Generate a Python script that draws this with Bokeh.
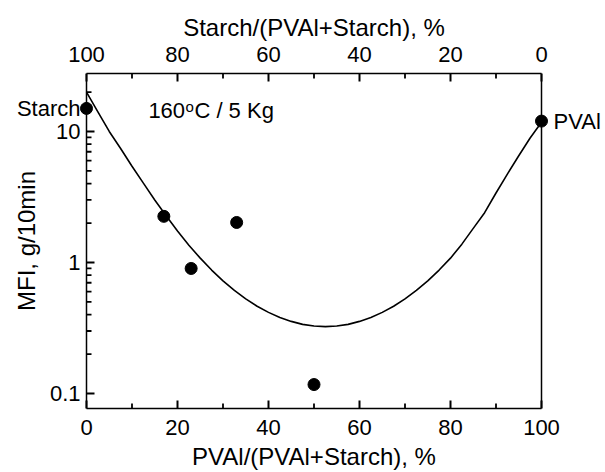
import math
from bokeh.plotting import figure
from bokeh.models import Range1d, LinearAxis, LogAxis, FixedTicker, Label, Span
from bokeh.embed import file_html
from bokeh.resources import INLINE

# Measured melt flow index values
pval_pct = [0, 17, 23, 33, 50, 100]
mfi = [15.0, 2.25, 0.90, 2.02, 0.117, 12.0]
point_names = {0: "Starch", 5: "PVAl"}

# Fitted curve
curve_x = [0, 2.5, 5, 7.5, 10, 12.5, 15, 17.5, 20, 22.5, 25, 27.5, 30, 32.5, 35, 37.5, 40,
           42.5, 45, 47.5, 50, 52.5, 55, 57.5, 60, 62.5, 65, 67.5, 70, 72.5, 75, 77.5, 80,
           82.5, 85, 87.5, 90, 92.5, 95, 97.5, 100]
curve_y = [20.0, 14.1, 10.0, 7.41, 5.43, 4.03, 3.00, 2.27, 1.74, 1.355, 1.079, 0.875, 0.724,
           0.612, 0.527, 0.463, 0.416, 0.380, 0.355, 0.337, 0.327, 0.324, 0.327, 0.337, 0.355,
           0.380, 0.416, 0.463, 0.527, 0.612, 0.724, 0.875, 1.079, 1.38, 1.82, 2.40, 3.39,
           4.73, 6.53, 8.91, 11.75]

x_ticks = [0, 20, 40, 60, 80, 100]
x_minor = [10, 30, 50, 70, 90]
top_labels = ["100", "80", "60", "40", "20", "0"]
y_ticks = [0.1, 1, 10]
y_labels = ["0.1", "1", "10"]
y_minor = [0.2, 0.3, 0.4, 0.5, 0.6, 0.7, 0.8, 0.9, 2, 3, 4, 5, 6, 7, 8, 9, 20]

FONT = "Liberation Sans"
X_LO, X_HI = 0, 100
Y_LO, Y_HI = 0.0768, 27.7
PAD = 8 * 100 / 455  # frame margin (in x units) so the edge markers are not clipped
MAJOR, MINOR = 8, 5  # inward tick lengths, px

p = figure(width=605, height=472, x_range=Range1d(X_LO - PAD, X_HI + PAD), y_range=Range1d(Y_LO, Y_HI),
           y_axis_type="log", x_axis_location=None, y_axis_location=None,
           output_backend="svg", toolbar_location=None,
           min_border_left=78, min_border_right=56, min_border_top=73, min_border_bottom=64)
p.background_fill_color = "white"
p.border_fill_color = "white"
p.outline_line_color = None
for g in p.grid:
    g.visible = False


def style(ax, label_standoff, title_standoff):
    ax.axis_line_color = "black"
    ax.axis_line_width = 1.5
    ax.major_tick_in = 0
    ax.major_tick_out = 0
    ax.minor_tick_in = 0
    ax.minor_tick_out = 0
    ax.major_tick_line_color = None
    ax.minor_tick_line_color = None
    ax.major_label_text_font = FONT
    ax.major_label_text_font_size = "22px"
    ax.major_label_text_color = "black"
    ax.major_label_standoff = label_standoff
    ax.axis_label_text_font = FONT
    ax.axis_label_text_font_size = "24px"
    ax.axis_label_text_font_style = "normal"
    ax.axis_label_text_color = "black"
    ax.axis_label_standoff = title_standoff


bottom = LinearAxis(ticker=FixedTicker(ticks=x_ticks, minor_ticks=x_minor),
                    axis_label="PVAl/(PVAl+Starch), %", bounds=(X_LO, X_HI))
style(bottom, 11, 5)
p.add_layout(bottom, "below")

top = LinearAxis(ticker=FixedTicker(ticks=x_ticks, minor_ticks=x_minor),
                 axis_label="Starch/(PVAl+Starch), %", bounds=(X_LO, X_HI),
                 major_label_overrides={t: s for t, s in zip(x_ticks, top_labels)})
style(top, 12, 3)
p.add_layout(top, "above")

left_overrides = {t: s for t, s in zip(y_ticks, y_labels)}
left_overrides[mfi[0]] = point_names[0]
left = LogAxis(ticker=FixedTicker(ticks=y_ticks + [mfi[0]], minor_ticks=y_minor),
               axis_label="MFI, g/10min", major_label_overrides=left_overrides)
style(left, -2, -26)
left.axis_line_color = None
p.add_layout(left, "left")

right = LogAxis(ticker=FixedTicker(ticks=[mfi[-1]], minor_ticks=[]),
                major_label_overrides={mfi[-1]: point_names[5]})
style(right, 4, 0)
right.axis_line_color = None
p.add_layout(right, "right")

# vertical frame edges at x = 0 and x = 100
p.add_layout(Span(location=X_LO, dimension="height", line_color="black", line_width=1.5))
p.add_layout(Span(location=X_HI, dimension="height", line_color="black", line_width=1.5))

# inward tick marks (the outer half of each dash is clipped by the frame)
for yy in (Y_LO, Y_HI):
    p.scatter(x_ticks, [yy] * len(x_ticks), marker="dash", angle=math.pi / 2, size=2 * MAJOR,
              line_color="black", line_width=2.0)
    p.scatter(x_minor, [yy] * len(x_minor), marker="dash", angle=math.pi / 2, size=2 * MINOR,
              line_color="black", line_width=1.8)
px = PAD / 8  # x units per pixel
p.segment(x0=[X_LO] * len(y_ticks), y0=y_ticks, x1=[X_LO + MAJOR * px] * len(y_ticks), y1=y_ticks,
          line_color="black", line_width=2.0)
p.segment(x0=[X_LO] * len(y_minor), y0=y_minor, x1=[X_LO + MINOR * px] * len(y_minor), y1=y_minor,
          line_color="black", line_width=1.8)

p.line(curve_x, curve_y, line_color="black", line_width=1.6)
p.scatter(pval_pct, mfi, size=12, fill_color="black", line_color="black")

lab_style = dict(text_font=FONT, text_color="black", text_baseline="middle", text_align="left")
p.add_layout(Label(x=13.6, y=14.5, text="160", text_font_size="22px", **lab_style))
p.add_layout(Label(x=13.6, y=14.5, text="o", x_offset=37, y_offset=4, text_font_size="15px", **lab_style))
p.add_layout(Label(x=13.6, y=14.5, text="C / 5 Kg", x_offset=46, text_font_size="22px", **lab_style))

open("out.html", "w").write(file_html(p, INLINE))
